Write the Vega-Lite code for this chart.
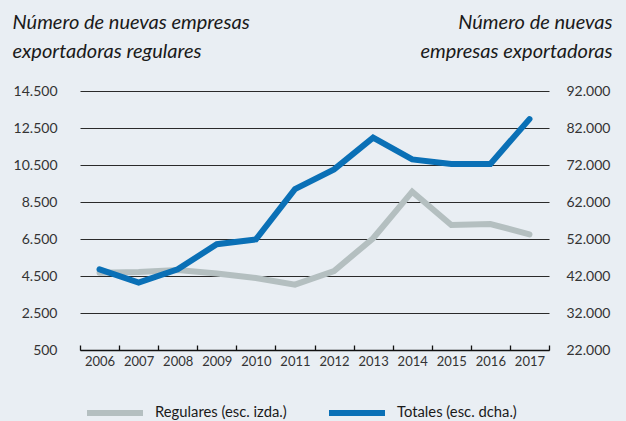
{
  "$schema": "https://vega.github.io/schema/vega-lite/v6.json",
  "width": 469,
  "height": 259,
  "autosize": {"type": "none"},
  "padding": {"left": 80, "top": 91, "right": 77, "bottom": 71},
  "background": "#e9eef3",
  "config": {"view": {"stroke": null}, "font": "Lato"},
  "data": {
    "values": [
      {"year": 2006, "serie": "Regulares (esc. izda.)", "value": 4680},
      {"year": 2007, "serie": "Regulares (esc. izda.)", "value": 4720},
      {"year": 2008, "serie": "Regulares (esc. izda.)", "value": 4820},
      {"year": 2009, "serie": "Regulares (esc. izda.)", "value": 4640},
      {"year": 2010, "serie": "Regulares (esc. izda.)", "value": 4390},
      {"year": 2011, "serie": "Regulares (esc. izda.)", "value": 4030},
      {"year": 2012, "serie": "Regulares (esc. izda.)", "value": 4770},
      {"year": 2013, "serie": "Regulares (esc. izda.)", "value": 6540},
      {"year": 2014, "serie": "Regulares (esc. izda.)", "value": 9060},
      {"year": 2015, "serie": "Regulares (esc. izda.)", "value": 7260},
      {"year": 2016, "serie": "Regulares (esc. izda.)", "value": 7310},
      {"year": 2017, "serie": "Regulares (esc. izda.)", "value": 6750},
      {"year": 2006, "serie": "Totales (esc. dcha.)", "value": 43800},
      {"year": 2007, "serie": "Totales (esc. dcha.)", "value": 40200},
      {"year": 2008, "serie": "Totales (esc. dcha.)", "value": 43800},
      {"year": 2009, "serie": "Totales (esc. dcha.)", "value": 50600},
      {"year": 2010, "serie": "Totales (esc. dcha.)", "value": 51900},
      {"year": 2011, "serie": "Totales (esc. dcha.)", "value": 65500},
      {"year": 2012, "serie": "Totales (esc. dcha.)", "value": 70800},
      {"year": 2013, "serie": "Totales (esc. dcha.)", "value": 79400},
      {"year": 2014, "serie": "Totales (esc. dcha.)", "value": 73500},
      {"year": 2015, "serie": "Totales (esc. dcha.)", "value": 72300},
      {"year": 2016, "serie": "Totales (esc. dcha.)", "value": 72300},
      {"year": 2017, "serie": "Totales (esc. dcha.)", "value": 84400}
    ]
  },
  "encoding": {
    "x": {
      "field": "year",
      "type": "quantitative",
      "scale": {"domain": [2005.5, 2017.5], "nice": false, "zero": false},
      "axis": {
        "title": null,
        "values": [2005.5, 2006.5, 2007.5, 2008.5, 2009.5, 2010.5, 2011.5, 2012.5, 2013.5, 2014.5, 2015.5, 2016.5, 2017.5],
        "labelExpr": "datum.value < 2017 ? format(datum.value + 0.5, 'd') : ''",
        "labelOffset": 19.5,
        "labelOverlap": false,
        "labelBound": false,
        "labelFlush": false,
        "labelFontSize": 13,
        "labelColor": "#333333",
        "labelPadding": 10,
        "grid": false,
        "domainColor": "#111111",
        "domainWidth": 1.3,
        "tickColor": "#111111",
        "tickWidth": 1.3,
        "tickSize": -5
      }
    },
    "color": {
      "field": "serie",
      "type": "nominal",
      "scale": {
        "domain": ["Regulares (esc. izda.)", "Totales (esc. dcha.)"],
        "range": ["#b4bfc0", "#0a70b6"]
      },
      "legend": {
        "title": null,
        "orient": "none",
        "legendX": 4,
        "legendY": 291,
        "direction": "horizontal",
        "symbolType": "stroke",
        "symbolSize": 3136,
        "symbolStrokeWidth": 6,
        "labelFontSize": 14.8,
        "labelColor": "#1a1a1a",
        "labelOffset": 9,
        "columnPadding": 30
      }
    }
  },
  "layer": [
    {
      "transform": [{"filter": "datum.serie == 'Regulares (esc. izda.)'"}],
      "mark": {"type": "line", "strokeWidth": 6, "strokeCap": "round"},
      "encoding": {
        "y": {
          "field": "value",
          "type": "quantitative",
          "scale": {"domain": [500, 14500], "nice": false, "zero": false},
          "axis": {
            "values": [500, 2500, 4500, 6500, 8500, 10500, 12500, 14500],
            "labelExpr": "replace(format(datum.value, ','), ',', '.')",
            "labelFontSize": 14,
            "labelColor": "#333333",
            "labelPadding": 23,
            "domain": false,
            "ticks": false,
            "grid": true,
            "gridColor": "#2a2a2a",
            "gridWidth": 1,
            "title": ["Número de nuevas empresas", "exportadoras regulares"],
            "titleAngle": 0,
            "titleAlign": "left",
            "titleBaseline": "alphabetic",
            "titleX": -68,
            "titleY": -63,
            "titleFontStyle": "italic",
            "titleFontWeight": "normal",
            "titleFontSize": 20,
            "titleLineHeight": 29,
            "titleColor": "#1a1a1a"
          }
        }
      }
    },
    {
      "transform": [{"filter": "datum.serie == 'Totales (esc. dcha.)'"}],
      "mark": {"type": "line", "strokeWidth": 6, "strokeCap": "round"},
      "encoding": {
        "y": {
          "field": "value",
          "type": "quantitative",
          "scale": {"domain": [22000, 92000], "nice": false, "zero": false},
          "axis": {
            "orient": "right",
            "values": [22000, 32000, 42000, 52000, 62000, 72000, 82000, 92000],
            "labelExpr": "replace(format(datum.value, ','), ',', '.')",
            "labelFontSize": 14,
            "labelColor": "#333333",
            "labelPadding": 17,
            "domain": false,
            "ticks": false,
            "grid": false,
            "title": ["Número de nuevas", "empresas exportadoras"],
            "titleAngle": 0,
            "titleAlign": "right",
            "titleBaseline": "alphabetic",
            "titleX": 63,
            "titleY": -63,
            "titleFontStyle": "italic",
            "titleFontWeight": "normal",
            "titleFontSize": 20,
            "titleLineHeight": 29,
            "titleColor": "#1a1a1a"
          }
        }
      }
    }
  ],
  "resolve": {"scale": {"y": "independent"}}
}
